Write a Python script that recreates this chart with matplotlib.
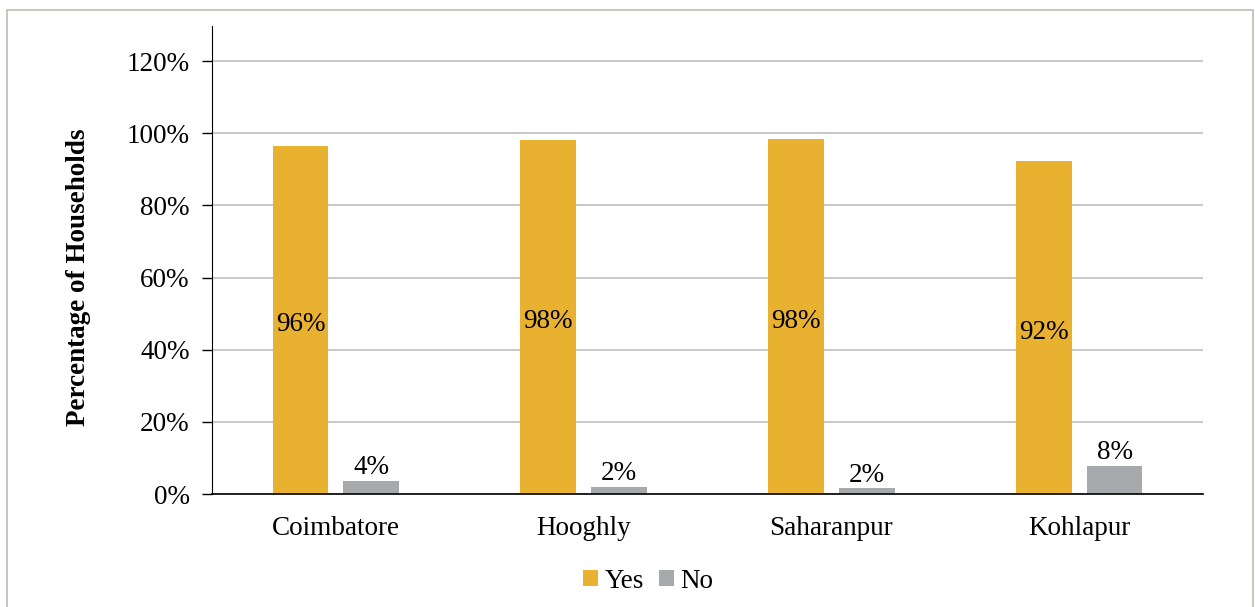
import numpy as np
import matplotlib.pyplot as plt
from matplotlib.patches import Rectangle

plt.rcParams['font.family'] = ['Liberation Serif', 'DejaVu Serif']

districts = ['Coimbatore', 'Hooghly', 'Saharanpur', 'Kohlapur']
yes_vals = [96.4, 98.1, 98.4, 92.3]
no_vals = [3.6, 1.9, 1.6, 7.8]
yes_labels = ['96%', '98%', '98%', '92%']
no_labels = ['4%', '2%', '2%', '8%']

yes_col = '#E9B130'
no_col = '#A7A9AC'
fs = 19.5

fig = plt.figure(figsize=(12.55, 6.07), dpi=100)
ax = fig.add_axes([212/1255, 1-494/607, (1203-212)/1255, (494-26)/607])

x = np.arange(len(districts))
w = 0.225
b1 = ax.bar(x - 0.143, yes_vals, w, color=yes_col, label='Yes', zorder=2)
b2 = ax.bar(x + 0.143, no_vals, w, color=no_col, label='No', zorder=2)

for r, t in zip(b1, yes_labels):
    ax.text(r.get_x() + r.get_width()/2, r.get_height()/2 - 1.3, t,
            ha='center', va='center', fontsize=fs, zorder=3)
for r, t in zip(b2, no_labels):
    ax.text(r.get_x() + r.get_width()/2, r.get_height() + 0.2, t,
            ha='center', va='bottom', fontsize=fs, zorder=3)

ax.set_xlim(-0.5, 3.5)
ax.set_ylim(0, 129.7)
ax.set_yticks(np.arange(0, 121, 20))
ax.set_yticklabels(['%d%%' % v for v in range(0, 121, 20)], fontsize=fs)
ax.set_xticks(x)
ax.set_xticklabels(districts, fontsize=fs)
ax.tick_params(axis='x', length=0, pad=16)
ax.tick_params(axis='y', length=7, width=1, pad=9)
ax.grid(axis='y', color='#BFBFBF', lw=1.2, zorder=0)
for s in ['top', 'right']:
    ax.spines[s].set_visible(False)
ax.spines['left'].set_color('black')
ax.spines['bottom'].set_color('black')
ax.spines['bottom'].set_linewidth(1.2)
ax.set_ylabel('Percentage of Households', fontsize=fs, fontweight='bold',
              labelpad=26, y=60/129.7)

fig.legend(loc='center', bbox_to_anchor=(648/1255, 1-581/607), ncol=2, frameon=False,
           fontsize=fs, handlelength=0.55, handleheight=0.55, handletextpad=0.25,
           columnspacing=0.55)

fig.patches.append(Rectangle((7/1255, -0.01), (1253-7)/1255, 1-10/607 + 0.01,
                             transform=fig.transFigure, fill=False,
                             edgecolor='#BDBDB8', lw=1.2))

fig.savefig('out.png', dpi=100)
